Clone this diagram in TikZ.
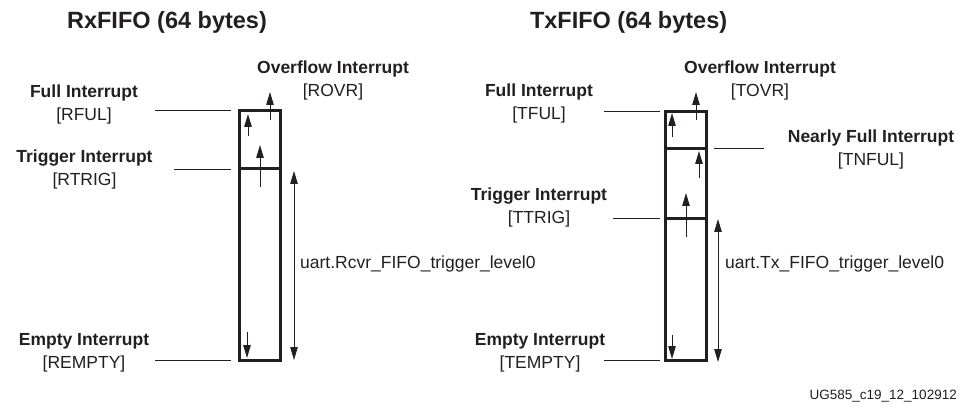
\documentclass[tikz,border=0pt]{standalone}
\usepackage{fontspec}
\setmainfont{Liberation Sans}
\usepackage{xcolor}
\usepackage{tikz}
\usetikzlibrary{arrows.meta,calc,positioning}
\definecolor{Ink}{HTML}{231F20}

\tikzset{
  fifo/.style={draw=Ink,line width=3pt,minimum width=41pt,inner sep=0pt,outer sep=0pt},
  lead/.style={draw=Ink,line width=0.9pt},
  arr/.style={-{Triangle[length=13pt,width=7.5pt]},line width=1pt,color=Ink},
  dblarr/.style={{Triangle[length=13pt,width=7.5pt]}-{Triangle[length=13pt,width=7.5pt]},line width=1pt,color=Ink},
  irq/.style={align=center,text=Ink,inner sep=0pt,font=\fontsize{17.5}{23}\selectfont},
  ttl/.style={text=Ink,inner sep=0pt,anchor=base,font=\fontsize{23.5}{27}\selectfont\bfseries},
  lvl/.style={text=Ink,inner sep=0pt,anchor=base west,font=\fontsize{17.5}{21}\selectfont}
}

\begin{document}
\begin{tikzpicture}[x=1pt,y=-1pt]
  \useasboundingbox (0,0) rectangle (964,406);

  % RxFIFO
  \node[ttl] (rxttl) at (167,28.3) {RxFIFO (64 bytes)};
  \node[fifo,minimum height=58.3pt] (rxfull) at (260.2,139.85) {};
  \node[fifo,minimum height=191pt,below=0pt of rxfull] (rxlow) {};

  \node[irq] (rful) at (84,104) {{\bfseries Full Interrupt}\\{}[RFUL]};
  \node[irq] (rtrig) at (84.5,169) {{\bfseries Trigger Interrupt}\\{}[RTRIG]};
  \node[irq] (rempty) at (84,353) {{\bfseries Empty Interrupt}\\{}[REMPTY]};
  \node[irq] (rovr) at (333,80.3) {{\bfseries Overflow Interrupt}\\{}[ROVR]};
  \node[lvl] (rlvl) at (300,269) {uart.Rcvr\_FIFO\_trigger\_level0};

  \draw[lead] ([xshift=-8.7pt]rxfull.north west) -- ++(-76,0);
  \draw[lead] ([xshift=-8.7pt]rxfull.south west) -- ++(-57,0);
  \draw[lead] ([xshift=-8.7pt]rxlow.south west) -- ++(-76,0);

  \draw[arr] (248,136) -- (248,114);
  \draw[arr] (270,120) -- (270,92);
  \draw[arr] (260,187) -- (260,145);
  \draw[arr] (247,332) -- (247,358);
  \draw[dblarr] (294,171) -- (294,360);

  % TxFIFO
  \node[ttl] (txttl) at (628.6,28.3) {TxFIFO (64 bytes)};
  \node[fifo,minimum height=37.5pt] (txfull) at (686,129.8) {};
  \node[fifo,minimum height=70pt,below=0pt of txfull] (txnear) {};
  \node[fifo,minimum height=142pt,below=0pt of txnear] (txlow) {};

  \node[irq] (tful) at (539,103) {{\bfseries Full Interrupt}\\{}[TFUL]};
  \node[irq] (tovr) at (760,80.3) {{\bfseries Overflow Interrupt}\\{}[TOVR]};
  \node[irq] (tnful) at (871,149.7) {{\bfseries Nearly Full Interrupt}\\{}[TNFUL]};
  \node[irq] (ttrig) at (539,207.6) {{\bfseries Trigger Interrupt}\\{}[TTRIG]};
  \node[irq] (tempty) at (540,353) {{\bfseries Empty Interrupt}\\{}[TEMPTY]};
  \node[lvl] (tlvl) at (725,269) {uart.Tx\_FIFO\_trigger\_level0};

  \draw[lead] ([xshift=-6pt]txfull.north west) -- ++(-56,0);
  \draw[lead] ([xshift=7pt]txfull.south east) -- ++(50,0);
  \draw[lead] ([xshift=-6pt]txnear.south west) -- ++(-47,0);
  \draw[lead] ([xshift=-6pt]txlow.south west) -- ++(-56,0);

  \draw[arr] (672,137) -- (672,113);
  \draw[arr] (696,120) -- (696,92);
  \draw[arr] (699,178) -- (699,151);
  \draw[arr] (686,237) -- (686,193);
  \draw[arr] (672,335) -- (672,359);
  \draw[dblarr] (718,219) -- (718,362);

  \node[text=Ink,inner sep=0pt,anchor=base east,font=\fontsize{13.5}{16}\selectfont] (figid) at (957,399) {UG585\_c19\_12\_102912};
\end{tikzpicture}
\end{document}
